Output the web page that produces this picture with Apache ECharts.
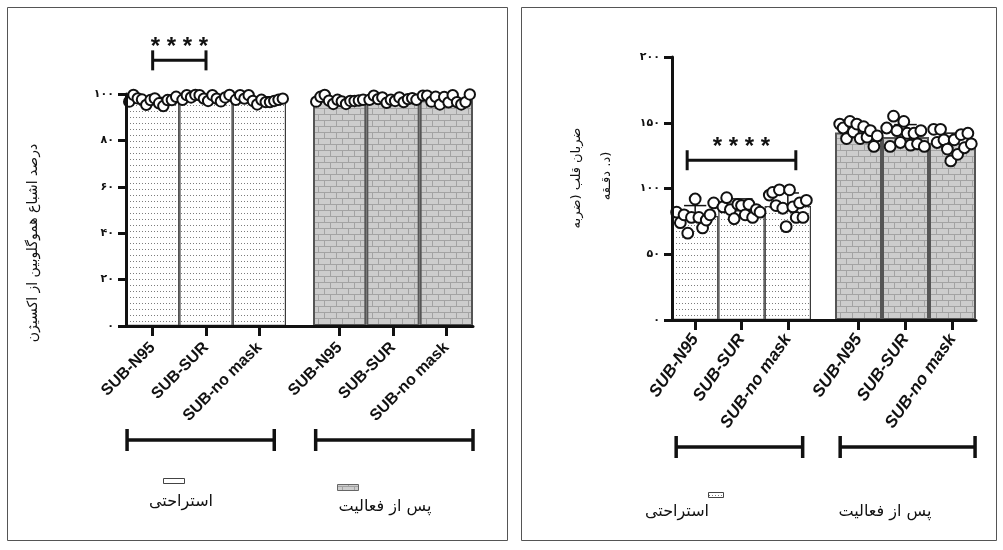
<!DOCTYPE html>
<html><head><meta charset="utf-8">
<script src="https://cdn.jsdelivr.net/npm/echarts@6/dist/echarts.min.js"></script>
<style>html,body{margin:0;padding:0;background:#fff}#c{width:1003px;height:550px}</style>
</head><body><div id="c"></div>
<script>
// ---------- data ----------
const categories = ['SUB-N95', 'SUB-SUR', 'SUB-no mask'];
const groupNames = ['استراحتی', 'پس از فعالیت'];
const leftYTicks = ['۰', '۲۰', '۴۰', '۶۰', '۸۰', '۱۰۰'];
const rightYTicks = ['۰', '۵۰', '۱۰۰', '۱۵۰', '۲۰۰'];
const leftYTitle = 'درصد اشباع هموگلوبین از اکسیژن';
const rightYTitle = ['ضربان قلب (ضربه', 'د. دقـقه)'];
const sigLabel = '* * * *';

// Left panel: SpO2 (%)
const spo2RestMean = [97.1, 98.4, 97.6];
const spo2RestSD = [1.4, 0.9, 1.2];
const spo2ExMean = [97.2, 97.7, 97.6];
const spo2ExSD = [1.1, 0.9, 1.5];
const spo2RestN95 = [96.7, 99.6, 98.1, 97.6, 95.3, 97.4, 98.1, 96.0, 94.8, 97.4, 97.4, 98.8];
const spo2RestSUR = [97.5, 99.5, 98.5, 99.6, 99.5, 98.0, 97.0, 99.5, 98.0, 96.8, 98.5, 99.6];
const spo2RestNoMask = [97.5, 99.5, 98.0, 99.5, 97.0, 95.5, 97.5, 96.5, 96.5, 97.0, 97.5, 98.0];
const spo2ExN95 = [96.7, 98.8, 99.6, 97.1, 95.7, 97.5, 96.8, 95.7, 97.0, 97.0, 97.2, 97.5];
const spo2ExSUR = [97.5, 99.3, 97.8, 98.5, 96.2, 97.5, 97.0, 98.5, 96.5, 97.8, 98.2, 97.5];
const spo2ExNoMask = [99.3, 99.3, 96.7, 98.8, 95.5, 98.7, 96.4, 99.5, 96.5, 95.5, 96.5, 99.8];

// Right panel: heart rate (beats / min)
const hrRestMean = [79, 83.5, 86.6];
const hrRestSD = [8, 8.6, 10];
const hrExMean = [142.5, 139.2, 134.6];
const hrExSD = [6, 9.4, 7.5];
const hrRestN95 = [82, 74, 80, 66, 78, 92, 78, 70, 76, 80, 89];
const hrRestSUR = [86, 93, 84, 77, 88, 87, 80, 88, 78, 84, 82];
const hrRestNoMask = [95, 97, 87, 99, 85, 71, 99, 86, 78, 89, 78, 91];
const hrExN95 = [149, 146, 138, 151, 143, 149, 138, 147, 139, 144, 132, 140];
const hrExSUR = [146, 132, 155, 144, 135, 151, 142, 133, 142, 134, 144, 132];
const hrExNoMask = [145, 135, 145, 137, 130, 121, 137, 126, 141, 131, 142, 134];

// ---------- helpers ----------
const FA = 'DejaVu Sans';
const LAT = 'Liberation Sans';
function dotCanvas() {
  const c = document.createElement('canvas'); c.width = 3; c.height = 6;
  const g = c.getContext('2d');
  g.fillStyle = '#ffffff'; g.fillRect(0, 0, 3, 6);
  g.fillStyle = '#7c7c7c'; g.fillRect(1, 3, 1, 1);
  return c;
}
function brickCanvas() {
  const c = document.createElement('canvas'); c.width = 12; c.height = 12;
  const g = c.getContext('2d');
  g.fillStyle = '#cdcdcd'; g.fillRect(0, 0, 12, 12);
  g.fillStyle = '#a3a3a3';
  g.fillRect(0, 0, 12, 1); g.fillRect(0, 6, 12, 1);
  g.fillRect(0, 0, 1, 6); g.fillRect(6, 6, 1, 6);
  return c;
}
const dotFill = { image: dotCanvas(), repeat: 'repeat' };
const brickFill = { image: brickCanvas(), repeat: 'repeat' };

function pointsData(lists) {
  const out = [];
  lists.forEach((arr, c) => arr.forEach((v, i) => out.push([c, v, i, arr.length])));
  return out;
}
function errData(mean, sd) { return mean.map((m, i) => [i, m, sd[i]]); }

function errRender(capFrac) {
  return function (params, api) {
    const c = api.value(0), m = api.value(1), s = api.value(2);
    const p0 = api.coord([c, m]), p1 = api.coord([c, m + s]);
    const hw = api.size([1, 0])[0] * capFrac / 2;
    return { type: 'group', children: [
      { type: 'line', shape: { x1: p0[0], y1: p0[1], x2: p1[0], y2: p1[1] }, style: { stroke: '#111', lineWidth: 1.5 } },
      { type: 'line', shape: { x1: p1[0] - hw, y1: p1[1], x2: p1[0] + hw, y2: p1[1] }, style: { stroke: '#111', lineWidth: 1.5 } }
    ] };
  };
}
function ptRender(span, r) {
  return function (params, api) {
    const c = api.value(0), v = api.value(1), i = api.value(2), n = api.value(3);
    const p = api.coord([c, v]);
    const bw = api.size([1, 0])[0];
    const x = p[0] + (n > 1 ? (i / (n - 1) - 0.5) : 0) * bw * span;
    return { type: 'circle', shape: { cx: x, cy: p[1], r: r }, style: { fill: '#fff', stroke: '#111', lineWidth: 2 } };
  };
}

function catAxis(grid, italic, size, margin, rot) {
  return {
    type: 'category', gridIndex: grid, data: categories, boundaryGap: true,
    axisLine: { show: false },
    axisTick: { show: true, alignWithLabel: true, length: 10, lineStyle: { color: '#111', width: 3 } },
    axisLabel: { interval: 0, rotate: rot, margin: margin, color: '#111', fontFamily: LAT, fontWeight: 'bold',
      fontStyle: italic ? 'italic' : 'normal', fontSize: size },
    splitLine: { show: false }
  };
}
function lineAxisX(grid) {
  return { type: 'value', gridIndex: grid, min: 0, max: 1, z: 10,
    axisLine: { show: true, lineStyle: { color: '#111', width: 3 } },
    axisTick: { show: false }, axisLabel: { show: false }, splitLine: { show: false } };
}
function hiddenY(grid, max) {
  return { type: 'value', gridIndex: grid, min: 0, max: max, show: false };
}
function mainY(grid, max, interval, ticks) {
  return { type: 'value', gridIndex: grid, min: 0, max: max, interval: interval, z: 10,
    axisLine: { show: true, lineStyle: { color: '#111', width: 3 } },
    axisTick: { show: true, length: 8, lineStyle: { color: '#111', width: 3 } },
    axisLabel: { margin: 12, color: '#111', fontFamily: FA, fontWeight: 'bold', fontSize: 11, formatter: (v, i) => ticks[i] },
    splitLine: { show: false } };
}

const option = {
  animation: false,
  backgroundColor: '#fff',
  grid: [
    { left: 126, top: 94, width: 160, height: 232 },
    { left: 313, top: 94, width: 160, height: 232 },
    { left: 126, top: 94, width: 347, height: 232 },
    { left: 672, top: 57, width: 139, height: 263 },
    { left: 835, top: 57, width: 141, height: 263 },
    { left: 672, top: 57, width: 304, height: 263 }
  ],
  xAxis: [
    catAxis(0, false, 16, 19, 45), catAxis(1, false, 16, 19, 45), lineAxisX(2),
    catAxis(3, true, 17, 16, 55), catAxis(4, true, 17, 16, 55), lineAxisX(5)
  ],
  yAxis: [
    hiddenY(0, 100), hiddenY(1, 100), mainY(2, 100, 20, leftYTicks),
    hiddenY(3, 200), hiddenY(4, 200), mainY(5, 200, 50, rightYTicks)
  ],
  series: [
    { type: 'bar', xAxisIndex: 0, yAxisIndex: 0, data: spo2RestMean, barWidth: '100%', z: 2,
      itemStyle: { color: dotFill, borderColor: '#3a3a3a', borderWidth: 1.2 } },
    { type: 'bar', xAxisIndex: 1, yAxisIndex: 1, data: spo2ExMean, barWidth: '100%', z: 2,
      itemStyle: { color: brickFill, borderColor: '#555', borderWidth: 2 } },
    { type: 'bar', xAxisIndex: 3, yAxisIndex: 3, data: hrRestMean, barWidth: '100%', z: 2,
      itemStyle: { color: dotFill, borderColor: '#3a3a3a', borderWidth: 1.2 } },
    { type: 'bar', xAxisIndex: 4, yAxisIndex: 4, data: hrExMean, barWidth: '100%', z: 2,
      itemStyle: { color: brickFill, borderColor: '#555', borderWidth: 2 } },
    { type: 'custom', xAxisIndex: 0, yAxisIndex: 0, z: 3, renderItem: errRender(0.45), data: errData(spo2RestMean, spo2RestSD) },
    { type: 'custom', xAxisIndex: 1, yAxisIndex: 1, z: 3, renderItem: errRender(0.45), data: errData(spo2ExMean, spo2ExSD) },
    { type: 'custom', xAxisIndex: 3, yAxisIndex: 3, z: 3, renderItem: errRender(0.48), data: errData(hrRestMean, hrRestSD) },
    { type: 'custom', xAxisIndex: 4, yAxisIndex: 4, z: 3, renderItem: errRender(0.48), data: errData(hrExMean, hrExSD) },
    { type: 'custom', xAxisIndex: 0, yAxisIndex: 0, z: 4, renderItem: ptRender(0.88, 5.2),
      data: pointsData([spo2RestN95, spo2RestSUR, spo2RestNoMask]) },
    { type: 'custom', xAxisIndex: 1, yAxisIndex: 1, z: 4, renderItem: ptRender(0.88, 5.2),
      data: pointsData([spo2ExN95, spo2ExSUR, spo2ExNoMask]) },
    { type: 'custom', xAxisIndex: 3, yAxisIndex: 3, z: 4, renderItem: ptRender(0.8, 5.4),
      data: pointsData([hrRestN95, hrRestSUR, hrRestNoMask]) },
    { type: 'custom', xAxisIndex: 4, yAxisIndex: 4, z: 4, renderItem: ptRender(0.8, 5.4),
      data: pointsData([hrExN95, hrExSUR, hrExNoMask]) }
  ]
};

const chart = echarts.init(document.getElementById('c'));
chart.setOption(option);

// ---------- annotations positioned through the axes ----------
function px(xi, yi, c, v) { return chart.convertToPixel({ xAxisIndex: xi, yAxisIndex: yi }, [c, v]); }
const G = [];
function line(x1, y1, x2, y2, w) {
  G.push({ type: 'line', z: 20, shape: { x1, y1, x2, y2 }, style: { stroke: '#111', lineWidth: w } });
}
function txt(x, y, text, font, rot) {
  G.push({ type: 'text', z: 20, x: x, y: y, rotation: rot || 0,
    style: { text: text, font: font, fill: '#111', align: 'center', verticalAlign: 'middle',
      textAlign: 'center', textVerticalAlign: 'middle' } });
}

// panel frames
G.push({ type: 'rect', z: 0, shape: { x: 7.5, y: 7.5, width: 500, height: 533 }, style: { fill: 'none', stroke: '#555', lineWidth: 1 } });
G.push({ type: 'rect', z: 0, shape: { x: 521.5, y: 7.5, width: 475, height: 533 }, style: { fill: 'none', stroke: '#555', lineWidth: 1 } });

function groupBracket(xi, yi, fromFrac, toFrac, y) {
  const a = px(xi, yi, 0, 0), b = px(xi, yi, 2, 0), bw = px(xi, yi, 1, 0)[0] - a[0];
  const x1 = a[0] + fromFrac * bw, x2 = b[0] + toFrac * bw;
  line(x1, y, x2, y, 3.5);
  line(x1, y - 11, x1, y + 11, 3.5);
  line(x2, y - 11, x2, y + 11, 3.5);
}
groupBracket(0, 0, -0.48, 0.28, 440);
groupBracket(1, 1, -0.45, 0.5, 440);
groupBracket(3, 3, -0.41, 0.32, 447);
groupBracket(4, 4, -0.39, 0.48, 447);

function sigBracket(xi, yi, c1, c2, v, ext) {
  const a = px(xi, yi, c1, v), b = px(xi, yi, c2, v);
  const x1 = a[0] - ext, x2 = b[0] + ext;
  line(x1, a[1], x2, a[1], 3);
  line(x1, a[1] - 10, x1, a[1] + 10, 3);
  line(x2, a[1] - 10, x2, a[1] + 10, 3);
  txt((x1 + x2) / 2, a[1] - 13, sigLabel, 'bold 24px "Liberation Sans"');
}
sigBracket(0, 0, 0, 1, 114.5, 0);
sigBracket(3, 3, 0, 2, 121.5, 8);

// y-axis titles
txt(33, 243, leftYTitle, '14px "DejaVu Sans"', Math.PI / 2);
txt(577, 178, rightYTitle[0], '13px "DejaVu Sans"', Math.PI / 2);
txt(607, 176, rightYTitle[1], '13px "DejaVu Sans"', Math.PI / 2);

// legends
G.push({ type: 'rect', z: 20, shape: { x: 163.5, y: 478.5, width: 21, height: 5 }, style: { fill: dotFill, stroke: '#444', lineWidth: 1 } });
txt(181, 502, groupNames[0], '16px "DejaVu Sans"');
G.push({ type: 'rect', z: 20, shape: { x: 337.5, y: 484.5, width: 21, height: 6 }, style: { fill: brickFill, stroke: '#666', lineWidth: 1 } });
txt(385, 507, groupNames[1], '16px "DejaVu Sans"');

txt(677, 512, groupNames[0], '16px "DejaVu Sans"');
G.push({ type: 'rect', z: 20, shape: { x: 708.5, y: 492.5, width: 15, height: 5 }, style: { fill: dotFill, stroke: '#444', lineWidth: 1 } });
txt(885, 512, groupNames[1], '16px "DejaVu Sans"');

chart.setOption({ graphic: { elements: G } });
</script>
</body></html>
